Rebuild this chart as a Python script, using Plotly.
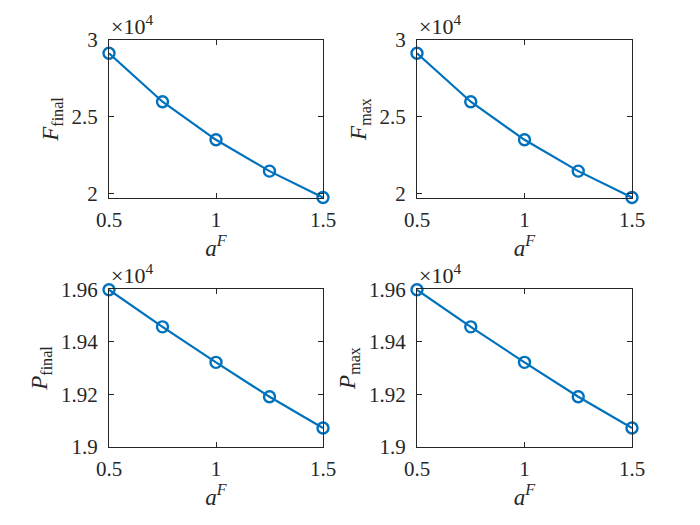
import numpy as np
import plotly.graph_objects as go

# data
a_F = [0.5, 0.75, 1.0, 1.25, 1.5]
F_final = [29140, 25980, 23500, 21460, 19740]
F_max = [29140, 25980, 23500, 21460, 19740]
P_final = [19598, 19457, 19322, 19191, 19072]
P_max = [19598, 19457, 19322, 19191, 19072]

x_ticks = [0.5, 1, 1.5]
x_ticktext = ["0.5", "1", "1.5"]
F_ticks = [2, 2.5, 3]
F_ticktext = ["2", "2.5", "3"]
P_ticks = [1.9, 1.92, 1.94, 1.96]
P_ticktext = ["1.9", "1.92", "1.94", "1.96"]

blue = "#0072BD"
ink = "#262626"
font = "Liberation Serif"

W, H = 700, 525
PAD = 8  # page body margin in the browser
# axes boxes in window pixels: (left, right, top, bottom)
boxes = [
    (109, 323, 40, 198),
    (417, 632, 40, 198),
    (109, 323, 289, 447),
    (417, 632, 289, 447),
]
series = [F_final, F_max, P_final, P_max]
ylabels = [
    "<i>F</i><sub>final</sub>",
    "<i>F</i><sub>max</sub>",
    "<i>P</i><sub>final</sub>",
    "<i>P</i><sub>max</sub>",
]
yranges = [[1.971, 3], [1.971, 3], [1.9, 1.9601], [1.9, 1.9601]]
yticks = [(F_ticks, F_ticktext), (F_ticks, F_ticktext),
          (P_ticks, P_ticktext), (P_ticks, P_ticktext)]

fig = go.Figure()
layout = dict(
    template="none",
    width=W, height=H,
    margin=dict(l=0, r=0, t=0, b=0, autoexpand=False),
    paper_bgcolor="white", plot_bgcolor="white",
    showlegend=False,
    font=dict(family=font, size=21, color=ink),
)
annotations = []

for i, (box, vals) in enumerate(zip(boxes, series)):
    l, r, t, b = [v - PAD for v in box]
    n = "" if i == 0 else str(i + 1)
    xa, ya = "x" + n, "y" + n
    fig.add_trace(go.Scatter(
        x=a_F, y=np.array(vals) / 1e4,
        mode="lines+markers", xaxis=xa, yaxis=ya,
        line=dict(color=blue, width=2.2),
        marker=dict(symbol="circle-open", size=11, color=blue,
                    line=dict(width=2.4, color=blue)),
        cliponaxis=False,
    ))
    common = dict(
        showline=True, mirror="ticks", linecolor=ink, linewidth=1,
        ticks="inside", ticklen=5, tickcolor=ink, showgrid=False,
        zeroline=False, automargin=False,
        tickfont=dict(family=font, size=21, color=ink),
    )
    layout["xaxis" + n] = dict(
        domain=[l / W, r / W], anchor=ya, range=[0.5, 1.5],
        tickvals=x_ticks, ticktext=x_ticktext, ticklabelstandoff=3,
        title=dict(text="<i>a</i><sup><i>F</i></sup>", standoff=0,
                   font=dict(family=font, size=23, color=ink)),
        **common,
    )
    tv, tt = yticks[i]
    layout["yaxis" + n] = dict(
        domain=[1 - b / H, 1 - t / H], anchor=xa, range=yranges[i],
        tickvals=tv, ticktext=tt, ticklabelstandoff=6,
        title=dict(text=ylabels[i], standoff=6,
                   font=dict(family=font, size=23, color=ink)),
        **common,
    )
    annotations.append(dict(
        text="\u00d710<sup>4</sup>", xref="paper", yref="paper",
        x=l / W, y=1 - (t - 15) / H, xanchor="left", yanchor="middle",
        showarrow=False, font=dict(family=font, size=22, color=ink),
    ))

layout["annotations"] = annotations
fig.update_layout(**layout)
fig.write_html("out.html")
